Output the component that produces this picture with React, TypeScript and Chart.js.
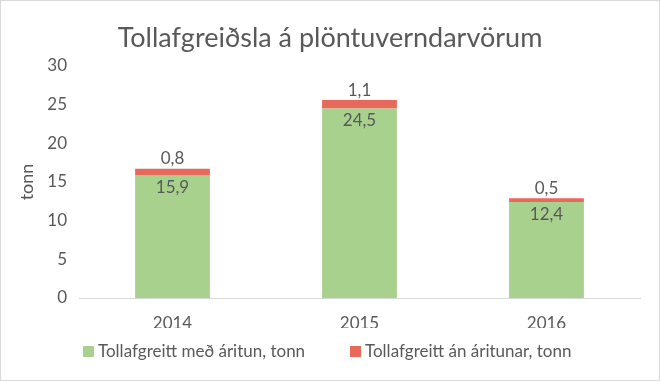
import React, { useEffect, useRef } from "react";
import { Chart, registerables } from "chart.js";

Chart.register(...registerables);

const categories = ["2014", "2015", "2016"];
const withPermit = [15.9, 24.5, 12.4];
const withoutPermit = [0.8, 1.1, 0.5];
const seriesNames = ["Tollafgreitt með áritun, tonn", "Tollafgreitt án áritunar, tonn"];
const titleText = "Tollafgreiðsla á plöntuverndarvörum";
const yTitle = "tonn";

const FONT = "Lato, 'Open Sans', sans-serif";
const TEXT = "#595959";
const GREEN = "#a9d18e";
const RED = "#e8685c";

const fmt = (v: number) => v.toFixed(1).replace(".", ",");

const overlay = {
  id: "overlay",
  afterDraw(chart: any) {
    const { ctx, chartArea, width, height } = chart;
    ctx.save();
    ctx.strokeStyle = "#d9d9d9";
    ctx.lineWidth = 1;
    ctx.strokeRect(0.5, 0.5, width - 1, height - 1);
    ctx.fillStyle = TEXT;
    ctx.font = `27px ${FONT}`;
    ctx.textAlign = "center";
    ctx.textBaseline = "middle";
    ctx.fillText(titleText, 330, 38);
    ctx.save();
    ctx.translate(27, (chartArea.top + chartArea.bottom) / 2);
    ctx.rotate(-Math.PI / 2);
    ctx.font = `18px ${FONT}`;
    ctx.fillText(yTitle, 0, 0);
    ctx.restore();
    ctx.font = `17px ${FONT}`;
    const m0 = chart.getDatasetMeta(0);
    const m1 = chart.getDatasetMeta(1);
    m0.data.forEach((bar: any, i: number) => {
      ctx.fillText(fmt(withPermit[i]), bar.x, bar.y + 12);
    });
    m1.data.forEach((bar: any, i: number) => {
      ctx.fillText(fmt(withoutPermit[i]), bar.x, bar.y - 10);
    });
    ctx.textAlign = "left";
    const items = [
      { name: seriesNames[0], color: GREEN, x: 83 },
      { name: seriesNames[1], color: RED, x: 350 },
    ];
    items.forEach((it) => {
      ctx.fillStyle = it.color;
      ctx.fillRect(it.x, 346, 11, 11);
      ctx.fillStyle = TEXT;
      ctx.fillText(it.name, it.x + 15, 352);
    });
    ctx.restore();
  },
};

export default function App() {
  const ref = useRef<HTMLCanvasElement>(null);
  useEffect(() => {
    const chart = new Chart(ref.current!, {
      type: "bar",
      data: {
        labels: categories,
        datasets: [
          { label: seriesNames[0], data: withPermit, backgroundColor: GREEN, categoryPercentage: 1, barPercentage: 0.4 },
          { label: seriesNames[1], data: withoutPermit, backgroundColor: RED, categoryPercentage: 1, barPercentage: 0.4 },
        ],
      },
      options: {
        animation: false,
        responsive: false,
        maintainAspectRatio: false,
        layout: { padding: { left: 0, top: 66, right: 20, bottom: 53 } },
        plugins: { legend: { display: false }, title: { display: false }, tooltip: { enabled: false } },
        scales: {
          x: {
            stacked: true,
            grid: { display: false, drawTicks: false },
            border: { display: true, color: "#d9d9d9" },
            ticks: { color: TEXT, font: { family: FONT, size: 17 }, padding: 15 },
            afterFit: (s: any) => { s.height = 30; },
          },
          y: {
            stacked: true,
            min: 0,
            max: 30,
            grid: { display: false, drawTicks: false },
            border: { display: false },
            ticks: { stepSize: 5, color: TEXT, font: { family: FONT, size: 17 }, padding: 12 },
            afterFit: (s: any) => { s.width = 79; },
          },
        },
      },
      plugins: [overlay],
    });
    return () => chart.destroy();
  }, []);
  return (
    <div style={{ position: "fixed", left: 0, top: 0, width: 660, height: 381, background: "#fff" }}>
      <canvas ref={ref} width={660} height={381} style={{ width: 660, height: 381 }} />
    </div>
  );
}
